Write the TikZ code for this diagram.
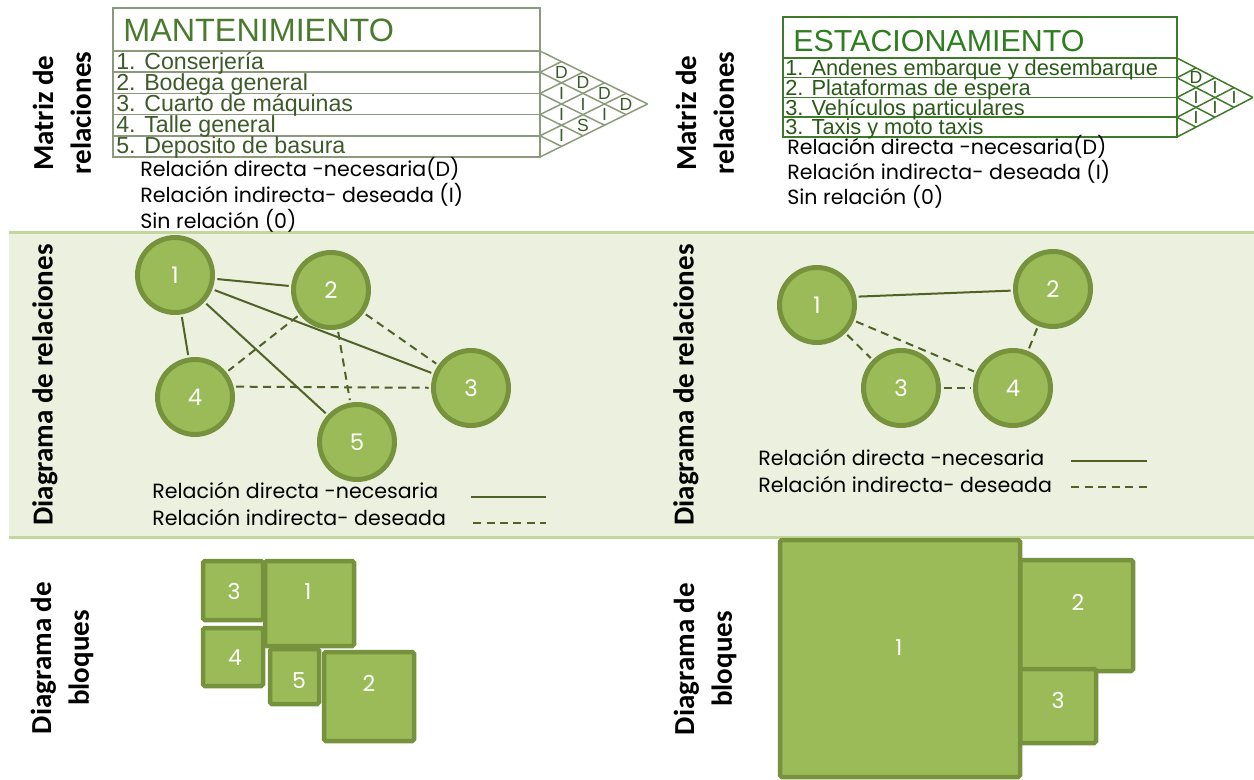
\documentclass[tikz,border=0pt]{standalone}
\usepackage{fontspec}
\setmainfont{Poppins}
\newfontfamily\arialf{Liberation Sans}
\newfontfamily\calibrif{Carlito}
\usetikzlibrary{calc}
\definecolor{verde}{HTML}{9BBB59}
\definecolor{verdeborde}{HTML}{76923C}
\definecolor{verdeoscuro}{HTML}{4F6228}
\definecolor{bandafondo}{HTML}{EBF1DE}
\definecolor{bandalinea}{HTML}{C3D69B}
\definecolor{titulomant}{HTML}{4A7A2E}
\definecolor{textomant}{HTML}{3D5A2A}
\definecolor{lineamant}{HTML}{8A9A7A}
\definecolor{tituloest}{HTML}{2E7D1E}
\definecolor{textoest}{HTML}{2A5A18}
\definecolor{lineaest}{HTML}{3F7A2A}

\begin{document}
\begin{tikzpicture}[
  x=0.02cm,y=-0.02cm,
  circulo/.style={circle,fill=verde,draw=verdeborde,line width=0.1cm,
                  minimum size=1.5cm,inner sep=0pt,text=white,
                  font=\fontsize{13pt}{15pt}\selectfont},
  bloque/.style={fill=verde,draw=verdeborde,line width=0.09cm,rounded corners=1pt},
  numbloque/.style={text=white,font=\fontsize{12.5pt}{15pt}\selectfont},
  directa/.style={verdeoscuro,line width=0.04cm,shorten <=0.05cm,shorten >=0.05cm},
  indirecta/.style={directa,dash pattern=on 0.16cm off 0.11cm},
  rotulo/.style={rotate=90,align=center,
                 font=\calibrif\bfseries\fontsize{16.5pt}{21.5pt}\selectfont},
  leyenda/.style={anchor=base west,inner sep=0pt,font=\fontsize{11.7pt}{13pt}\selectfont},
  filamant/.style={anchor=base west,text=textomant,inner sep=0pt,
                   font=\arialf\fontsize{13.2pt}{14pt}\selectfont},
  filaest/.style={anchor=base west,text=textoest,inner sep=0pt,
                  font=\arialf\fontsize{12.4pt}{14pt}\selectfont},
  letramant/.style={text=textomant,inner sep=0pt,font=\arialf\fontsize{10pt}{11pt}\selectfont},
  letraest/.style={text=textoest,inner sep=0pt,font=\arialf\fontsize{10pt}{11pt}\selectfont},
  rejmant/.style={lineamant,line width=0.03cm},
  rejest/.style={lineaest,line width=0.03cm}
]
  \useasboundingbox (0,0) rectangle (1254,780);
  % franja del diagrama de relaciones
  \fill[bandafondo] (9,233) rectangle (1254,537);
  \draw[bandalinea,line width=0.06cm] (9,233) -- (1254,233);
  \draw[bandalinea,line width=0.06cm] (9,537) -- (1254,537);

  % rotulos
  \node[rotulo] (rotA1) at (62,113) {Matriz de\\relaciones};
  \node[rotulo] (rotB1) at (705,113) {Matriz de\\relaciones};
  \node[rotulo] (rotA2) at (45,385) {Diagrama de relaciones};
  \node[rotulo] (rotB2) at (686,385) {Diagrama de relaciones};
  \node[rotulo] (rotA3) at (62,658) {Diagrama de\\bloques};
  \node[rotulo] (rotB3) at (705,659) {Diagrama de\\bloques};

  % matriz mantenimiento
  \draw[rejmant] (113,8) rectangle (540,157);
  \foreach \k in {0,...,4}
    \draw[rejmant] (113,{51+\k*21.2}) -- (540,{51+\k*21.2});
  \foreach \k in {0,...,5} {
    \draw[rejmant] (540,{51+\k*21.2}) -- ++({(5-\k)*21.5},{(5-\k)*10.6});
    \draw[rejmant] (540,{51+\k*21.2}) -- ++({\k*21.5},{-\k*10.6});
  }
  \node[anchor=base west,text=titulomant,inner sep=0pt,
        font=\arialf\fontsize{18.4pt}{20pt}\selectfont] (titmant) at (123,42) {MANTENIMIENTO};
  \foreach \t [count=\n] in {1. Conserjería,2. Bodega general,3. Cuarto de máquinas,
                             4. Talle general,5. Deposito de basura}
    \node[filamant] (mant\n) at (116,{51+\n*21.2-3}) {\t};
  \foreach \i/\j/\l in {1/2/D,1/3/D,1/4/D,1/5/D,2/3/I,2/4/I,2/5/I,3/4/I,3/5/S,4/5/I}
    \node[letramant] (rm\i\j) at ({540+(\j-\i)*21.5},{51+(\i+\j-1)*10.6}) {\l};

  % matriz estacionamiento
  \draw[rejest] (783,17) rectangle (1177,137);
  \foreach \k in {0,...,3}
    \draw[rejest] (783,{58+\k*19.75}) -- (1177,{58+\k*19.75});
  \foreach \k in {0,...,4} {
    \draw[rejest] (1177,{58+\k*19.75}) -- ++({(4-\k)*19},{(4-\k)*9.875});
    \draw[rejest] (1177,{58+\k*19.75}) -- ++({\k*19},{-\k*9.875});
  }
  \node[anchor=base west,text=tituloest,inner sep=0pt,
        font=\arialf\fontsize{17.3pt}{20pt}\selectfont] (titest) at (793,52) {ESTACIONAMIENTO};
  \foreach \t [count=\n] in {1. Andenes embarque y desembarque,2. Plataformas de espera,
                             3. Vehículos particulares,3. Taxis y moto taxis}
    \node[filaest] (est\n) at (785,{58+\n*19.75-2}) {\t};
  \foreach \i/\j/\l in {1/2/D,1/3/I,1/4/I,2/3/I,2/4/I,3/4/I}
    \node[letraest] (re\i\j) at ({1177+(\j-\i)*19},{58+(\i+\j-1)*9.875}) {\l};

  % leyendas de las matrices
  \node[leyenda] (leyA1) at (140,177) {Relación directa -necesaria(D)};
  \node[leyenda] (leyA2) at (140,203) {Relación indirecta- deseada (I)};
  \node[leyenda] (leyA3) at (140,229) {Sin relación (0)};
  \node[leyenda] (leyB1) at (787,155) {Relación directa -necesaria(D)};
  \node[leyenda] (leyB2) at (787,180) {Relación indirecta- deseada (I)};
  \node[leyenda] (leyB3) at (787,205) {Sin relación (0)};

  % diagrama de relaciones mantenimiento
  \node[circulo] (l1) at (175,275) {1};
  \node[circulo] (l2) at (331,290) {2};
  \node[circulo] (l3) at (471,388) {3};
  \node[circulo] (l4) at (195,397) {4};
  \node[circulo] (l5) at (357,442) {5};
  \draw[directa] (l1) -- (l2);
  \draw[directa] (l1) -- (l4);
  \draw[directa] (l1) -- (l5);
  \draw[directa] (l1) -- (l3);
  \draw[indirecta] (l2) -- (l4);
  \draw[indirecta] (l2) -- (l3);
  \draw[indirecta] (l2) -- (l5);
  \draw[indirecta] (l4.15) -- (l3);
  \node[leyenda] (leyC1) at (152,498) {Relación directa -necesaria};
  \node[leyenda] (leyC2) at (152,525) {Relación indirecta- deseada};
  \draw[directa,shorten <=0pt,shorten >=0pt] (471,497) -- (546,497);
  \draw[indirecta,shorten <=0pt,shorten >=0pt] (473,523) -- (546,523);

  % diagrama de relaciones estacionamiento
  \node[circulo] (r1) at (817,305) {1};
  \node[circulo] (r2) at (1053,289) {2};
  \node[circulo] (r3) at (901,388) {3};
  \node[circulo] (r4) at (1013,388) {4};
  \draw[directa] (r1.12) -- (r2);
  \draw[indirecta] (r1) -- (r3);
  \draw[indirecta] (r1) -- (r4);
  \draw[indirecta] (r2) -- (r4);
  \draw[indirecta] (r3) -- (r4);
  \node[leyenda] (leyD1) at (758,465) {Relación directa -necesaria};
  \node[leyenda] (leyD2) at (758,492) {Relación indirecta- deseada};
  \draw[directa,shorten <=0pt,shorten >=0pt] (1071,461) -- (1147,461);
  \draw[indirecta,shorten <=0pt,shorten >=0pt] (1071,487) -- (1147,487);

  % diagrama de bloques mantenimiento
  \draw[bloque] (265,561) rectangle (354,646);
  \draw[bloque] (203,561) rectangle (263,620);
  \draw[bloque] (203,628) rectangle (263,686);
  \draw[bloque] (270,649) rectangle (319,704);
  \draw[bloque] (324,652) rectangle (414,741);
  \node[numbloque] (ba1) at (308,592) {1};
  \node[numbloque] (ba3) at (234,591) {3};
  \node[numbloque] (ba4) at (235,658) {4};
  \node[numbloque] (ba5) at (299,681) {5};
  \node[numbloque] (ba2) at (369,683) {2};

  % diagrama de bloques estacionamiento
  \draw[bloque] (1020,560) rectangle (1133,671);
  \draw[bloque] (1020,669) rectangle (1096,743);
  \draw[bloque] (780,540) rectangle (1020,777);
  \node[numbloque] (bb1) at (899,648) {1};
  \node[numbloque] (bb2) at (1078,602) {2};
  \node[numbloque] (bb3) at (1058,700) {3};
\end{tikzpicture}
\end{document}
